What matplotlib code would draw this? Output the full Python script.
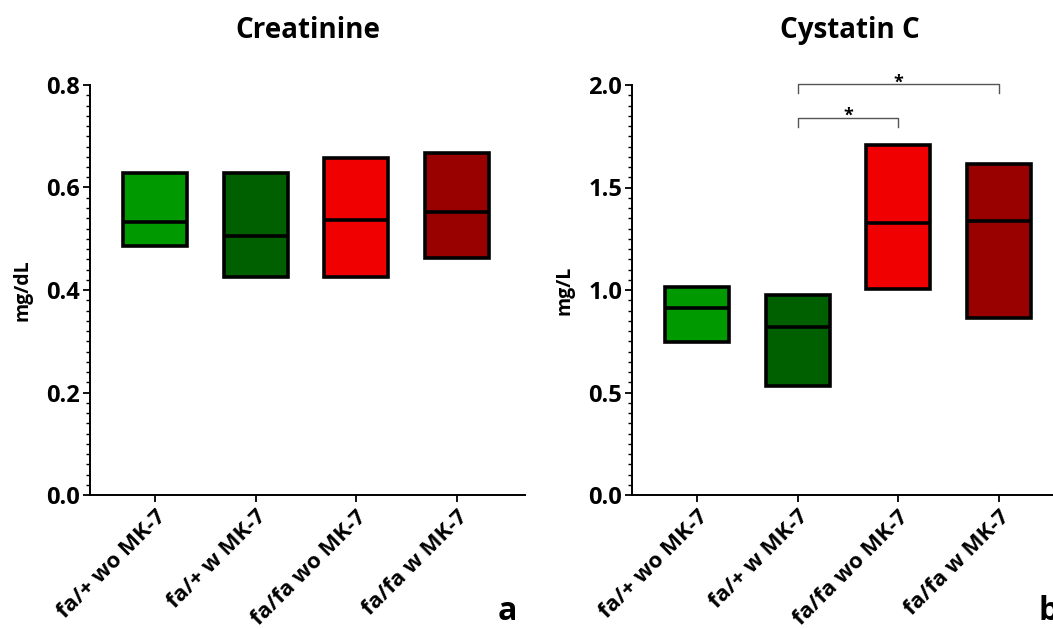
import matplotlib
matplotlib.use("Agg")
import matplotlib.pyplot as plt
from matplotlib.ticker import MultipleLocator, FormatStrFormatter

plt.rcParams['font.family'] = ['Open Sans', 'DejaVu Sans']
plt.rcParams['font.weight'] = 'bold'

groups = ["fa/+ wo MK-7", "fa/+ w MK-7", "fa/fa wo MK-7", "fa/fa w MK-7"]
colors = ["#009a00", "#006000", "#f00000", "#990000"]

# Creatinine (mg/dL): min, median, max per group
creat_min = [0.485, 0.425, 0.425, 0.462]
creat_med = [0.533, 0.505, 0.537, 0.552]
creat_max = [0.628, 0.628, 0.658, 0.668]

# Cystatin C (mg/L): min, median, max per group
cys_min = [0.745, 0.530, 1.005, 0.865]
cys_med = [0.910, 0.820, 1.325, 1.335]
cys_max = [1.015, 0.975, 1.705, 1.615]

# significance brackets: (group a, group b, bracket height, label)
cys_sig = [(1, 2, 1.84, "*"), (1, 3, 2.005, "*")]

W, H = 1053, 629
fig = plt.figure(figsize=(W / 100, H / 100), dpi=100)

def panel(rect, vmin, vmed, vmax, ymax, major, minor, ylabel, title, letter, sig=()):
    ax = fig.add_axes(rect)
    x = list(range(len(groups)))
    ax.bar(x, [b - a for a, b in zip(vmin, vmax)], bottom=vmin, width=0.64,
           color=colors, edgecolor="black", linewidth=2.6, zorder=3)
    ax.hlines(vmed, [i - 0.32 for i in x], [i + 0.32 for i in x],
              color="black", linewidth=2.6, zorder=4)
    ax.set_xlim(-0.65, 3.68)
    ax.set_ylim(0, ymax)
    ax.yaxis.set_major_locator(MultipleLocator(major))
    ax.yaxis.set_minor_locator(MultipleLocator(minor))
    ax.yaxis.set_major_formatter(FormatStrFormatter('%.1f'))
    ax.set_xticks(x)
    ax.set_xticklabels(groups, rotation=45, ha="right", rotation_mode="anchor",
                       fontsize=16, fontweight="bold")
    for lab in ax.get_yticklabels():
        lab.set_fontweight("bold")
    ax.tick_params(axis="y", which="major", length=5, width=1.3, labelsize=17, pad=2)
    ax.tick_params(axis="y", which="minor", length=3, width=1.0)
    ax.tick_params(axis="x", which="major", length=5, width=1.3, pad=3)
    for s in ("top", "right"):
        ax.spines[s].set_visible(False)
    for s in ("left", "bottom"):
        ax.spines[s].set_linewidth(1.4)
    ax.set_ylabel(ylabel, fontsize=14, fontweight="bold", labelpad=10)
    ax.set_title(title, fontsize=20, fontweight="bold", pad=34)
    for a, b, h, txt in sig:
        d = ymax * 0.022
        ax.plot([a, a, b, b], [h - d, h, h, h - d], color="#555555", lw=1.0,
                clip_on=False, zorder=5)
        ax.text((a + b) / 2, h - ymax * 0.018, txt, ha="center", va="bottom",
                fontsize=13, fontweight="bold", clip_on=False)
    ax.text(3.5, -0.285 * ymax, letter, fontsize=23, fontweight="bold",
            ha="center", va="center", clip_on=False)
    return ax

ax_h = 410 / H
ax_y = (H - 495) / H
ax_w = 435 / W
panel([90 / W, ax_y, ax_w, ax_h], creat_min, creat_med, creat_max, 0.8, 0.2, 0.02,
      "mg/dL", "Creatinine", "a")
panel([632 / W, ax_y, ax_w, ax_h], cys_min, cys_med, cys_max, 2.0, 0.5, 0.05,
      "mg/L", "Cystatin C", "b", cys_sig)

fig.savefig("out.png", dpi=100)
